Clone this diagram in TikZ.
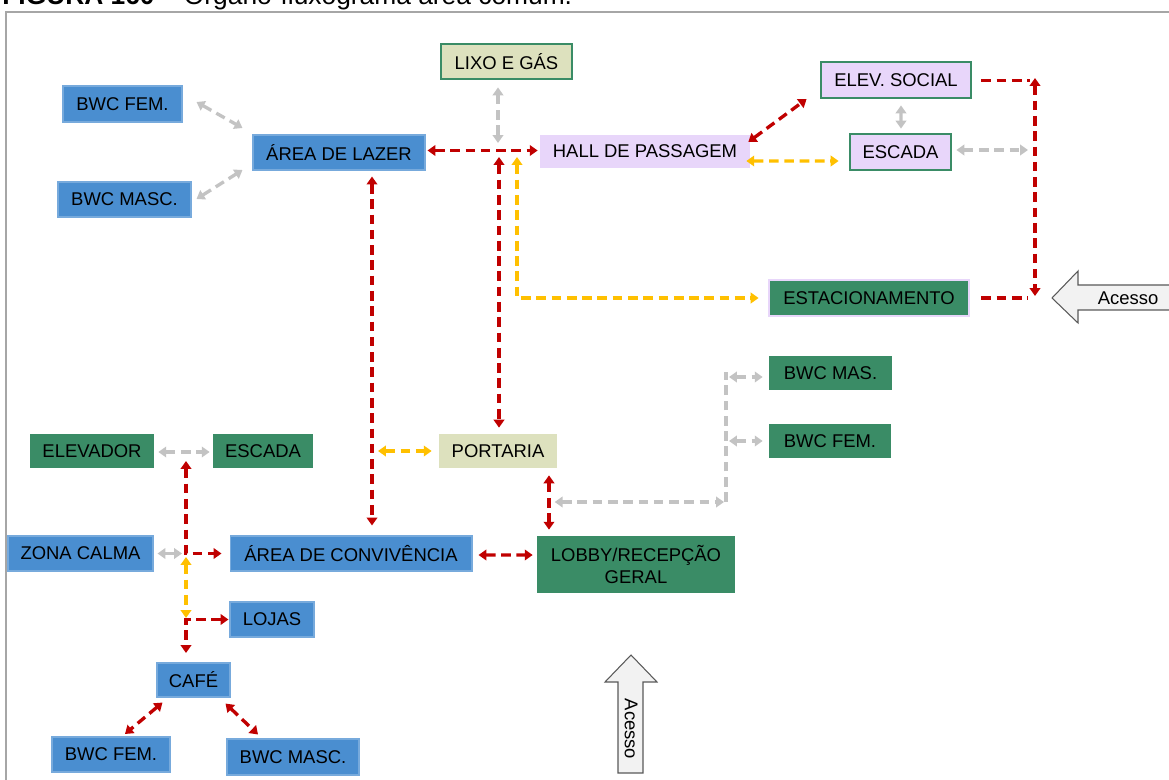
\documentclass[tikz,border=0pt]{standalone}
\usepackage{fontspec}
\setmainfont{Liberation Sans}
\usetikzlibrary{arrows.meta}

\definecolor{boxblue}{HTML}{4A8ED0}
\definecolor{boxgreen}{HTML}{3A8C66}
\definecolor{boxlilac}{HTML}{E8D6FA}
\definecolor{boxolive}{HTML}{DDE1BE}
\definecolor{linered}{HTML}{C00000}
\definecolor{lineyellow}{HTML}{FFC000}
\definecolor{linegray}{HTML}{C3C3C3}
\definecolor{framegray}{HTML}{A6A6A6}
\definecolor{accessfill}{HTML}{F2F2F2}

\tikzset{
  box/.style={rectangle,inner sep=0pt,font=\fontsize{10.5}{12.5}\selectfont},
  blue box/.style={box,fill=boxblue,draw=boxblue!75!white,line width=0.6pt},
  green box/.style={box,fill=boxgreen},
  lilac box/.style={box,fill=boxlilac},
  olive box/.style={box,fill=boxolive},
  framed/.style={draw=boxgreen,line width=1.6pt},
  flow/.style={line width=1.9pt,dash pattern=on 5.5pt off 3.2pt,
    >={Triangle[length=4.5pt,width=6pt]}},
  red flow/.style={flow,draw=linered},
  yellow flow/.style={flow,draw=lineyellow},
  gray flow/.style={flow,draw=linegray},
  access/.style={fill=accessfill,draw=black!65,line width=0.6pt}
}

\begin{document}
\begin{tikzpicture}[x=0.02cm,y=-0.02cm]
\useasboundingbox (0,0) rectangle (1169,780);
\clip (0,0) rectangle (1169,780);

% caption and frame
\node[anchor=base west,inner sep=0pt,font=\fontsize{15}{18}\selectfont] (caption) at (2,5)
  {\textbf{FIGURA 160} -- Organo-fluxograma área comum.};
\draw[framegray,line width=1.2pt] (6,800) -- (6,12) -- (1200,12);

% upper floor
\node[olive box,framed,minimum width=2.62cm,minimum height=0.70cm] (lixo) at (506.5,61.5) {LIXO E GÁS};
\node[lilac box,framed,minimum width=3.00cm,minimum height=0.72cm] (elevsocial) at (896,80) {ELEV. SOCIAL};
\node[lilac box,framed,minimum width=2.02cm,minimum height=0.72cm] (escadasocial) at (900.5,152) {ESCADA};
\node[lilac box,minimum width=4.20cm,minimum height=0.66cm] (hall) at (645,151.5) {HALL DE PASSAGEM};
\node[blue box,minimum width=3.44cm,minimum height=0.70cm] (lazer) at (339,152.5) {ÁREA DE LAZER};
\node[blue box,minimum width=2.38cm,minimum height=0.72cm] (bwcfemlazer) at (122.5,104) {BWC FEM.};
\node[blue box,minimum width=2.66cm,minimum height=0.70cm] (bwcmasclazer) at (124.5,199.5) {BWC MASC.};
\node[green box,draw=boxlilac,line width=1.6pt,minimum width=4.00cm,minimum height=0.72cm] (estac) at (869,298) {ESTACIONAMENTO};

% ground floor
\node[green box,minimum width=2.46cm,minimum height=0.68cm] (bwcmas) at (830.5,373) {BWC MAS.};
\node[green box,minimum width=2.44cm,minimum height=0.68cm] (bwcfem) at (830,441) {BWC FEM.};
\node[olive box,minimum width=2.36cm,minimum height=0.68cm] (portaria) at (498,451) {PORTARIA};
\node[green box,minimum width=2.48cm,minimum height=0.68cm] (elevador) at (92,451) {ELEVADOR};
\node[green box,minimum width=2.00cm,minimum height=0.68cm] (escada) at (263,451) {ESCADA};
\node[blue box,minimum width=2.90cm,minimum height=0.70cm] (zonacalma) at (80.5,553.5) {ZONA CALMA};
\node[blue box,minimum width=4.84cm,minimum height=0.70cm] (convivencia) at (351,553.5) {ÁREA DE CONVIVÊNCIA};
\node[green box,align=center,minimum width=3.96cm,minimum height=1.14cm] (lobby) at (636,564.5) {LOBBY/RECEPÇÃO\\GERAL};
\node[blue box,minimum width=1.68cm,minimum height=0.70cm] (lojas) at (272,619.5) {LOJAS};
\node[blue box,minimum width=1.46cm,minimum height=0.68cm] (cafe) at (193.5,680) {CAFÉ};
\node[blue box,minimum width=2.36cm,minimum height=0.70cm] (bwcfemcafe) at (111,754.5) {BWC FEM.};
\node[blue box,minimum width=2.64cm,minimum height=0.72cm] (bwcmasccafe) at (293,757) {BWC MASC.};

% access arrows
\draw[access] (1052,298) -- (1078,271) -- (1078,285) -- (1190,285) -- (1190,310)
  -- (1078,310) -- (1078,323) -- cycle;
\node[font=\fontsize{10.5}{12.5}\selectfont] (acessoright) at (1128,298) {Acesso};
\draw[access] (631,655) -- (657,682) -- (643,682) -- (643,773) -- (618,773)
  -- (618,682) -- (605,682) -- cycle;
\node[rotate=-90,font=\fontsize{10.5}{12.5}\selectfont] (acessobottom) at (631,729) {Acesso};

% junction points
\coordinate (lixojoin) at (498,143);
\coordinate (hallred) at (499,157);
\coordinate (hallyellow) at (517,157);
\coordinate (elevend) at (1030,80.5);
\coordinate (estacend) at (1028,298);
\coordinate (railtop) at (1035,78);
\coordinate (railbot) at (1035,296);
\coordinate (railmid) at (1028,150);
\coordinate (portleft) at (378,451);
\coordinate (bwcrailbot) at (726,502);
\coordinate (bwcrailtop) at (726,372);
\coordinate (bwcmasjoin) at (729,377);
\coordinate (bwcfemjoin) at (729,441);
\coordinate (stairtop) at (186,461);
\coordinate (stairbot) at (186,553.5);
\coordinate (calmajoin) at (182,553.5);
\coordinate (yellowtop) at (186,557);
\coordinate (yellowbot) at (186,618);
\coordinate (lojasjoin) at (186,619.5);
\coordinate (cafetop) at (186,653);

% upper floor flows
\draw[gray flow,<->] ([shift={(14,-2)}]bwcfemlazer.east) -- ([shift={(-10,-24.5)}]lazer.west);
\draw[gray flow,<->] ([shift={(5,-0.5)}]bwcmasclazer.east) -- ([shift={(-10,17.5)}]lazer.west);
\draw[red flow,<->] ([shift={(2,-2)}]lazer.east) -- ([shift={(-2,-1)}]hall.west);
\draw[gray flow,<->] ([shift={(-8.5,7)}]lixo.south) -- (lixojoin);
\draw[red flow,<->] (hallred) -- ([shift={(1,-6)}]portaria.north);
\draw[yellow flow,<->] (hallyellow) -- (hallyellow |- estac.west) -- ([shift={(-9,0)}]estac.west);
\draw[red flow,<->] ([shift={(-2,-9.5)}]hall.east) -- ([shift={(-13,19)}]elevsocial.west);
\draw[yellow flow,<->] ([shift={(-4,9.5)}]hall.east) -- ([shift={(-10,9)}]escadasocial.west);
\draw[gray flow,<->] ([shift={(5,6)}]elevsocial.south) -- ([shift={(0.5,-4)}]escadasocial.north);
\draw[gray flow,<->] ([shift={(4,-2)}]escadasocial.east) -- (railmid);
\draw[red flow] ([shift={(9,0.5)}]elevsocial.east) -- (elevend);
\draw[red flow] ([shift={(11,0)}]estac.east) -- (estacend);
\draw[red flow,<->] (railtop) -- (railbot);

% ground floor flows
\draw[red flow,<->] ([shift={(33,6)}]lazer.south) -- ([shift={(21,-10)}]convivencia.north);
\draw[yellow flow,<->] (portleft) -- ([shift={(-7,0)}]portaria.west);
\draw[red flow,<->] ([shift={(51,7)}]portaria.south) -- ([shift={(-87,-6)}]lobby.north);
\draw[gray flow,<->] ([shift={(18,-62.5)}]lobby.west) -- ([shift={(-2,0)}]bwcrailbot);
\draw[gray flow] (bwcrailbot) -- (bwcrailtop);
\draw[gray flow,<->] (bwcmasjoin) -- ([shift={(-6,4)}]bwcmas.west);
\draw[gray flow,<->] (bwcfemjoin) -- ([shift={(-6,0)}]bwcfem.west);
\draw[gray flow,<->] ([shift={(4,1)}]elevador.east) -- ([shift={(-3,1)}]escada.west);
\draw[red flow,<->] (stairtop) -- (stairbot) -- ([shift={(-8,0)}]convivencia.west);
\draw[gray flow,<->] ([shift={(4,0)}]zonacalma.east) -- (calmajoin);
\draw[yellow flow,<->] (yellowtop) -- (yellowbot);
\draw[red flow,<->] ([shift={(-1,0)}]lojas.west) -- (lojasjoin) -- (cafetop);
\draw[red flow,<->] ([shift={(6,5)}]cafe.south west) -- ([shift={(14,-2.5)}]bwcfemcafe.north);
\draw[red flow,<->] ([shift={(-5,6)}]cafe.south east) -- ([shift={(-35,-4)}]bwcmasccafe.north);
\draw[red flow,<->] ([shift={(6,1.5)}]convivencia.east) -- ([shift={(-4,-9.5)}]lobby.west);
\end{tikzpicture}
\end{document}
